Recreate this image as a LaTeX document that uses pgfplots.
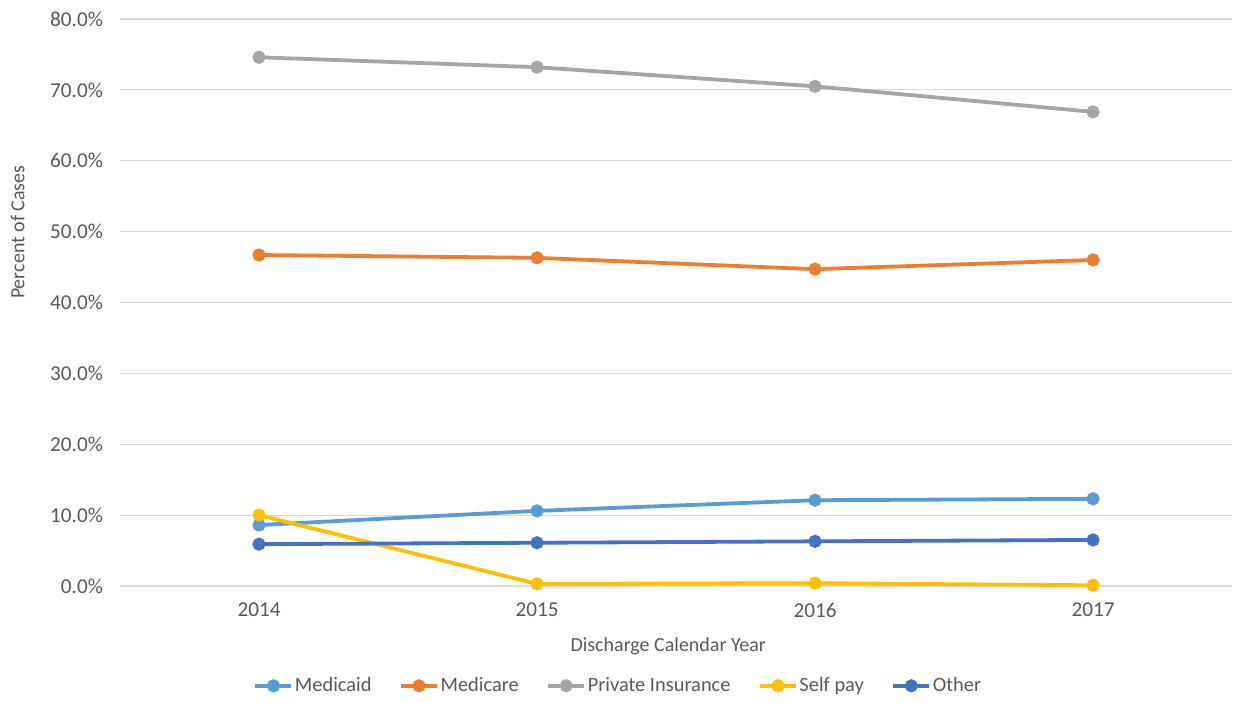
\documentclass[border=0pt]{standalone}
\usepackage{fontspec}
\setmainfont{Carlito}
\usepackage{pgfplots}
\pgfplotsset{compat=1.18}

\definecolor{cMedicaid}{HTML}{5B9BD5}
\definecolor{cMedicare}{HTML}{ED7D31}
\definecolor{cPrivate}{HTML}{A5A5A5}
\definecolor{cSelf}{HTML}{FFC000}
\definecolor{cOther}{HTML}{4472C4}
\definecolor{txt}{HTML}{595959}
\definecolor{gridc}{HTML}{D9D9D9}

\begin{document}
\begin{tikzpicture}
\begin{axis}[
  at={(0,0)}, anchor=south west,
  scale only axis,
  width=556pt, height=283.5pt,
  xmin=2013.5, xmax=2017.5,
  ymin=0, ymax=80,
  xtick={2014,2015,2016,2017},
  xticklabels={2014,2015,2016,2017},
  ytick={0,10,...,80},
  yticklabel={\pgfmathprintnumber[fixed,fixed zerofill,precision=1]{\tick}\%},
  /pgf/number format/assume math mode=true,
  major tick length=0pt,
  axis line style={draw=none},
  ymajorgrids,
  grid style={gridc, line width=0.6pt},
  tick label style={font=\fontsize{10.6}{12}\selectfont, text=txt},
  xticklabel style={yshift=-5pt},
  yticklabel style={xshift=-5pt},
  xlabel={Discharge Calendar Year},
  ylabel={Percent of Cases},
  label style={font=\fontsize{10}{12}\selectfont, text=txt},
  xlabel style={at={(axis description cs:0.493,-0.106)}, anchor=center},
  ylabel style={at={(axis description cs:-0.092,0.624)}, anchor=center},
  legend style={
    at={(axis description cs:0.448,-0.176)}, anchor=center,
    draw=none, fill=none,
    font=\fontsize{10.2}{12}\selectfont, text=txt,
    nodes={inner xsep=0.8pt},
    /tikz/every even column/.append style={column sep=13pt},
  },
  legend columns=5,
  legend image code/.code={
    \draw[mark repeat=2, mark phase=2]
      plot coordinates {(0pt,0pt) (9pt,0pt) (18pt,0pt)};
  },
  every axis plot/.append style={line width=1.9pt, mark=*, mark size=2.3pt},
  clip=false,
]
\addplot[color=cMedicaid] coordinates {(2014,8.6) (2015,10.6) (2016,12.1) (2017,12.3)};
\addlegendentry{Medicaid}
\addplot[color=cMedicare] coordinates {(2014,46.7) (2015,46.3) (2016,44.7) (2017,46.0)};
\addlegendentry{Medicare}
\addplot[color=cPrivate] coordinates {(2014,74.6) (2015,73.2) (2016,70.5) (2017,66.9)};
\addlegendentry{Private Insurance}
\addplot[color=cSelf] coordinates {(2014,10.0) (2015,0.3) (2016,0.4) (2017,0.1)};
\addlegendentry{Self pay}
\addplot[color=cOther] coordinates {(2014,5.9) (2015,6.1) (2016,6.3) (2017,6.5)};
\addlegendentry{Other}
\end{axis}
\useasboundingbox (-60pt,-57pt) rectangle (556.5pt,293pt);
\end{tikzpicture}
\end{document}
